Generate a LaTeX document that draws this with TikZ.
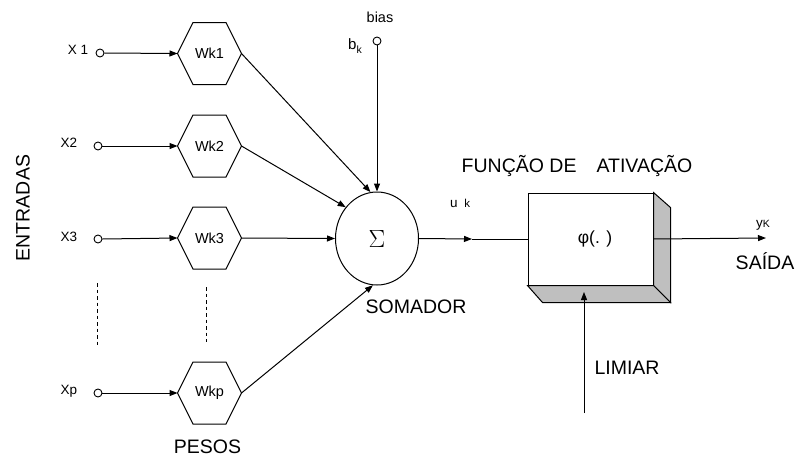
\documentclass[tikz,border=0pt]{standalone}
\usepackage{fontspec}
\setmainfont{Liberation Sans}
\usetikzlibrary{arrows.meta,calc,shapes.geometric}
\begin{document}
\begin{tikzpicture}[x=1pt,y=-1pt,line width=1pt,
  big/.style={font=\fontsize{19.5}{22}\selectfont,inner sep=0pt},
  lab/.style={font=\fontsize{13.5}{15}\selectfont,inner sep=0pt},
  inp/.style={circle,draw,minimum size=8pt,inner sep=0pt,line width=0.9pt,fill=white},
  hexnode/.style={minimum width=63pt,minimum height=61pt,inner sep=0pt,font=\fontsize{14.5}{16}\selectfont},
  arr/.style={-{Triangle[length=8pt,width=6pt]}},
  dots/.style={dash pattern=on 3.5pt off 3pt,line width=1pt},
  face/.style={draw,fill=black!25,line width=1pt}]
\useasboundingbox (0,0) rectangle (795,458);

% input circles
\node[inp] (x1) at (100,53) {};
\node[inp] (x2) at (98,146) {};
\node[inp] (x3) at (98,239) {};
\node[inp] (xp) at (98,393) {};
\node[lab] (lx1) at (78,50) {X 1};
\node[lab] (lx2) at (69,143) {X2};
\node[lab] (lx3) at (69,237) {X3};
\node[lab] (lxp) at (69,391) {Xp};

% weights
\node[hexnode] (w1) at (209.5,53.5) {Wk1};
\node[hexnode] (w2) at (209.5,146) {Wk2};
\node[hexnode] (w3) at (209.5,238) {Wk3};
\node[hexnode] (wp) at (209.5,393) {Wkp};
\foreach \n in {w1,w2,w3,wp}{
  \draw (\n.west) -- ($(\n.north)+(-16.5,0)$) -- ($(\n.north)+(16.5,0)$) -- (\n.east)
        -- ($(\n.south)+(16.5,0)$) -- ($(\n.south)+(-16.5,0)$) -- cycle;
}

% dashed ellipsis lines
\coordinate (d1a) at (97,283);
\coordinate (d1b) at (97,345);
\coordinate (d2a) at (206,287);
\coordinate (d2b) at (206,342);
\draw[dots] (d1a) -- (d1b);
\draw[dots] (d2a) -- (d2b);

% summing junction
\node[ellipse,draw,minimum width=83pt,minimum height=93pt,inner sep=0pt] (sum) at (377,238.5) {\fontsize{24}{26}\selectfont$\Sigma$};

% bias
\node[inp] (b) at (377,41) {};
\node[font=\fontsize{14.5}{16}\selectfont,inner sep=0pt] (lbias) at (380,17) {bias};
\node[font=\fontsize{15}{16}\selectfont,inner sep=0pt] (lbk) at (355,46) {b\raisebox{-0.45ex}{\fontsize{10.5}{12}\selectfont k}};

% input arrows
\draw[arr] (x1.east) -- (w1.west);
\draw[arr] (x2.east) -- (w2.west);
\draw[arr] (x3.east) -- (w3.west);
\draw[arr] (xp.east) -- (wp.west);

% weight to sum
\draw[arr] (w1.east) -- (sum.98);
\draw[arr] (w2.east) -- (sum.135);
\draw[arr] (w3.east) -- (sum.west);
\draw[arr] (wp.east) -- (sum.265);
\draw[arr] (b.south) -- (sum.north);

% activation box
\node[minimum width=125pt,minimum height=92pt,inner sep=0pt] (act) at (590.5,239) {};
\draw[face] (act.north east) -- ++(17,15) -- ($(act.south east)+(17,17)$) -- (act.south east) -- cycle;
\draw[face] (act.south west) -- (act.south east) -- ($(act.south east)+(17,17)$) -- ($(act.south west)+(15,17)$) -- cycle;
\node[draw,fill=white,minimum width=125pt,minimum height=92pt,inner sep=0pt,font=\fontsize{17.5}{19}\selectfont] (actf) at (590.5,239) {\hspace{9pt}φ(. )};

% u_k
\coordinate (uk) at (472,239);
\draw[arr] (sum.east) -- (uk);
\draw (uk) -- (actf.west);
\node[lab] (luk) at (460,203) {u\hspace{0.5em}{\fontsize{11.5}{13}\selectfont k}};

% output
\coordinate (yout) at (766,238);
\draw[arr] (actf.east) -- (yout);
\node[lab] (lyk) at (763,225) {y{\fontsize{10.5}{12}\selectfont K}};

% limiar
\coordinate (lim) at (584,413);
\coordinate (limtip) at (584,292);
\draw[arr] (lim) -- (limtip);

% labels
\node[big,rotate=90] (lent) at (23,208) {ENTRADAS};
\node[big] (lpes) at (207.5,447) {PESOS};
\node[big] (lsom) at (416,307) {SOMADOR};
\node[big] (lfun) at (577,166) {FUNÇÃO DE\hspace{20pt}ATIVAÇÃO};
\node[big] (lsai) at (765,261) {SAÍDA};
\node[big] (llim) at (627,368) {LIMIAR};
\end{tikzpicture}
\end{document}
